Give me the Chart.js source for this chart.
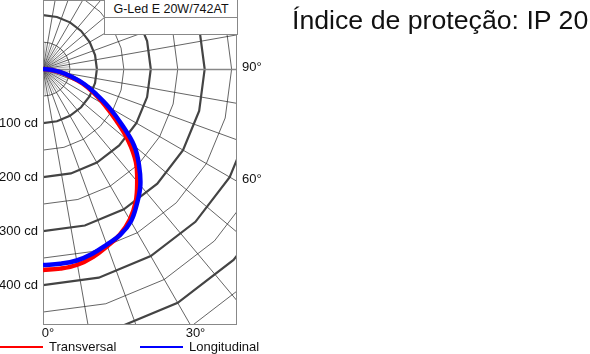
<!DOCTYPE html>
<html>
<head>
<meta charset="utf-8">
<script src="https://cdn.jsdelivr.net/npm/chart.js@4/dist/chart.umd.min.js"></script>
<style>
  body { margin: 0; background: #fff; font-family: "Liberation Sans", Arial, sans-serif; }
  #wrap { position: relative; width: 590px; height: 354px; overflow: hidden; }
  #c { position: absolute; left: 0; top: 0; }
  .tbox { position: absolute; left: 104px; top: 0; width: 132px; height: 34px; background: #fff;
          border: 1px solid #888; border-top: none; }
  .tbox .row1 { height: 17px; border-bottom: 1px solid #888; font-size: 12.5px; line-height: 19px;
                text-align: center; color: #111; }
  .title { position: absolute; left: 292px; top: 5px; font-size: 26.7px; line-height: 30px; color: #111; white-space: nowrap; }
  .leg { position: absolute; top: 339px; font-size: 13px; line-height: 16px; color: #111; white-space: nowrap; }
  .leg i { display: inline-block; width: 43px; height: 2px; vertical-align: middle; margin-right: 6px; position: relative; top: -1px; }
</style>
</head>
<body>
<div id="wrap">
  <canvas id="c" width="590" height="354"></canvas>
  <div class="tbox"><div class="row1">G-Led E 20W/742AT</div></div>
  <div class="title">Índice de proteção: IP 20</div>
  <div class="leg" style="left:0"><i style="background:#ff0000"></i>Transversal</div>
  <div class="leg" style="left:140px"><i style="background:#0000ff"></i>Longitudinal</div>
</div>
<script>
// gamma angles (deg from nadir) and intensities (cd)
const angles = [0, 5, 10, 15, 20, 25, 30, 35, 40, 45, 50, 55, 60, 65, 70, 75, 80, 85, 90];
const transversal = [372, 371, 368, 360, 349, 338, 322, 300, 272, 244, 207, 166, 132, 104, 78, 52, 30, 12, 0];
const longitudinal = [363, 362, 360, 354, 346, 339, 326, 304, 281, 252, 221, 178, 141, 108, 82, 55, 33, 14, 0];

const cdTicks = [100, 200, 300, 400];
const bottomAngles = [0, 30];
const sideAngles = [90, 60];

// visible window in cd units
const X_MAX = 360;
const Y_MIN = -474;
const Y_MAX = 128;

const rad = d => d * Math.PI / 180;
const toXY = (deg, cd) => ({ x: cd * Math.sin(rad(deg)), y: -cd * Math.cos(rad(deg)) });

const polarGrid = {
  id: 'polarGrid',
  beforeDatasetsDraw(chart) {
    const { ctx, chartArea: a, scales } = chart;
    const px = (deg, cd) => {
      const p = toXY(deg, cd);
      return [scales.x.getPixelForValue(p.x), scales.y.getPixelForValue(p.y)];
    };
    ctx.save();
    ctx.beginPath();
    ctx.rect(a.left, a.top, a.right - a.left, a.bottom - a.top);
    ctx.clip();

    // radial lines, short ones every 5 deg near the centre
    for (let d = 0; d <= 180; d += 5) {
      if (d === 90) continue;
      const full = d % 10 === 0;
      ctx.strokeStyle = full ? '#222' : '#666';
      ctx.lineWidth = full ? 0.7 : 0.5;
      const [x0, y0] = px(d, full ? 0 : 8);
      const [x1, y1] = px(d, full ? 800 : 50);
      ctx.beginPath();
      ctx.moveTo(x0, y0);
      ctx.lineTo(x1, y1);
      ctx.stroke();
    }

    // intensity rings (polygons)
    for (let r = 50; r <= 700; r += 50) {
      const major = r % 100 === 0;
      ctx.strokeStyle = major ? '#444' : '#222';
      ctx.lineWidth = major ? 2.2 : 0.7;
      ctx.beginPath();
      for (let d = 0; d <= 180; d += 15) {
        const [x, y] = px(d, r);
        if (d === 0) ctx.moveTo(x, y); else ctx.lineTo(x, y);
      }
      ctx.stroke();
    }

    // 90 deg line
    const [hx0, hy0] = px(90, 0);
    ctx.strokeStyle = '#888';
    ctx.lineWidth = 1.3;
    ctx.beginPath();
    ctx.moveTo(hx0, Math.round(hy0) + 0.5);
    ctx.lineTo(a.right, Math.round(hy0) + 0.5);
    ctx.stroke();
    ctx.restore();

    // frame
    ctx.save();
    ctx.strokeStyle = '#888';
    ctx.lineWidth = 1;
    ctx.strokeRect(Math.round(a.left) + 0.5, Math.round(a.top) + 0.5,
                   Math.round(a.right - a.left) - 1, Math.round(a.bottom - a.top) - 1);
    ctx.restore();
  }
};

Chart.defaults.font.family = '"Liberation Sans", Arial, sans-serif';
Chart.defaults.font.size = 13;
Chart.defaults.color = '#111';

const fixTicks = list => scale => { scale.ticks = list.map(v => ({ value: v })); };

new Chart(document.getElementById('c'), {
  type: 'scatter',
  data: {
    datasets: [
      {
        label: 'Transversal',
        data: angles.map((a, i) => toXY(a, transversal[i])),
        borderColor: '#ff0000',
        borderWidth: 4.5,
        showLine: true,
        tension: 0.4,
        pointRadius: 0,
        order: 2
      },
      {
        label: 'Longitudinal',
        data: angles.map((a, i) => toXY(a, longitudinal[i])),
        borderColor: '#0000ff',
        borderWidth: 4.5,
        showLine: true,
        tension: 0.4,
        pointRadius: 0,
        order: 1
      }
    ]
  },
  options: {
    responsive: false,
    animation: false,
    layout: { padding: { left: 0, top: 0, right: 323, bottom: 13 } },
    plugins: { legend: { display: false }, tooltip: { enabled: false } },
    scales: {
      x: {
        type: 'linear', position: 'bottom', min: 0, max: X_MAX,
        grid: { display: false, drawTicks: false }, border: { display: false },
        afterBuildTicks: fixTicks(bottomAngles.map(d => -Y_MIN * Math.tan(rad(d)))),
        ticks: {
          autoSkip: false, maxRotation: 0, padding: 1, labelOffset: 5,
          callback: (v, i) => bottomAngles[i] + '°'
        },
        afterFit: s => { s.height = 16; s.paddingLeft = 0; s.paddingRight = 0; }
      },
      y: {
        type: 'linear', position: 'left', min: Y_MIN, max: Y_MAX,
        grid: { display: false, drawTicks: false }, border: { display: false },
        afterBuildTicks: fixTicks(cdTicks.map(v => -v)),
        ticks: { autoSkip: false, padding: 5, callback: (v, i) => cdTicks[i] + ' cd' },
        afterFit: s => { s.width = 43; s.paddingTop = 0; s.paddingBottom = 0; }
      },
      y2: {
        type: 'linear', position: 'right', min: Y_MIN, max: Y_MAX,
        grid: { display: false, drawTicks: false }, border: { display: false },
        afterBuildTicks: fixTicks(sideAngles.map(d => d === 90 ? 0 : -X_MAX / Math.tan(rad(d)))),
        ticks: { autoSkip: false, padding: 5, labelOffset: -2, callback: (v, i) => sideAngles[i] + '°' },
        afterFit: s => { s.width = 30; s.paddingTop = 0; s.paddingBottom = 0; }
      }
    }
  },
  plugins: [polarGrid]
});
</script>
</body>
</html>
